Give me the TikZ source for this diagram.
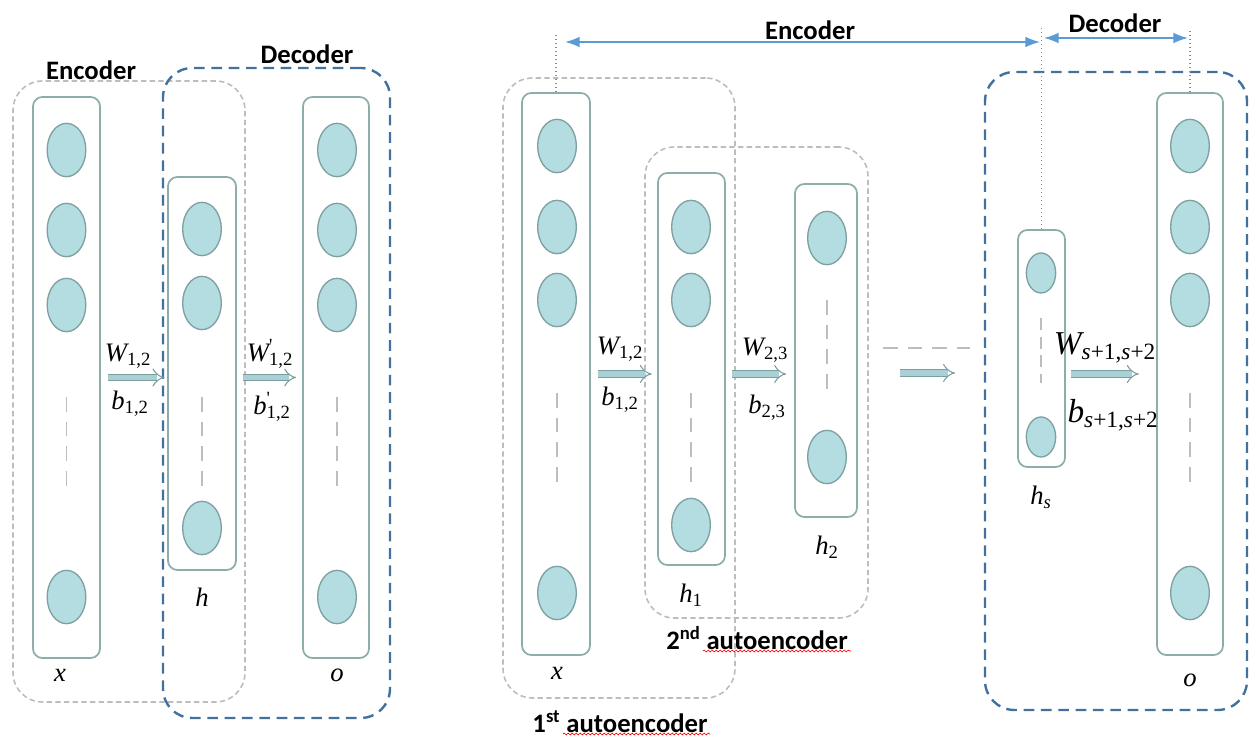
\documentclass[tikz,border=0pt]{standalone}
\usepackage{fontspec}
\setsansfont{Carlito}
\newfontfamily\labfont{Liberation Serif}
\usepackage{tikz}
\usetikzlibrary{shapes.geometric,arrows.meta,decorations.pathmorphing}
\definecolor{cellfill}{HTML}{B4DDE1}
\definecolor{celledge}{HTML}{7FA0A0}
\definecolor{layeredge}{HTML}{8DADAA}
\definecolor{boxgray}{HTML}{BDBDBD}
\definecolor{boxblue}{HTML}{41719C}
\definecolor{spanblue}{HTML}{5B9BD5}
\definecolor{fatfill}{HTML}{A9D0D4}
\definecolor{fatedge}{HTML}{7C9E9E}
\newcommand{\lsub}[1]{\textsubscript{\upshape #1}}
\newcommand{\lsubsup}[2]{\rlap{\textsuperscript{\upshape #1}}\textsubscript{\upshape #2}}
\newcommand{\ssub}{\textsubscript{s\upshape+1,\itshape s\upshape+2}}
\tikzset{
  layer/.style = {draw=layeredge, line width=1.3pt, rounded corners=7pt, inner sep=0pt},
  neuron/.style = {ellipse, draw=celledge, fill=cellfill, line width=1pt, minimum width=29pt, minimum height=40pt, inner sep=0pt},
  smallneuron/.style = {neuron, minimum width=22pt, minimum height=30pt},
  gapline/.style = {draw=boxgray, line width=1.3pt, dash pattern=on 11pt off 7.5pt},
  encbox/.style = {draw=boxgray, line width=1.2pt, dash pattern=on 4pt off 2.5pt, rounded corners=22pt, inner sep=0pt},
  decbox/.style = {draw=boxblue, line width=1.8pt, dash pattern=on 8pt off 5pt, rounded corners=22pt, inner sep=0pt},
  span/.style = {{Latex[length=11pt,width=8pt]}-{Latex[length=11pt,width=8pt]}, draw=spanblue, line width=1.1pt},
  guide/.style = {draw=spanblue, dotted, line width=1pt},
  fat/.style = {-{Implies}, draw=fatedge, double=fatfill, double distance=4pt, line width=0.8pt},
  tag/.style = {font=\sffamily\bfseries\fontsize{20}{22}\selectfont, inner sep=0pt},
  mlabel/.style = {font=\labfont\itshape\fontsize{20}{22}\selectfont, inner sep=0pt},
  biglabel/.style = {font=\labfont\itshape\fontsize{25}{28}\selectfont, inner sep=0pt},
  squiggle/.style = {draw=red, line width=0.5pt, decorate, decoration={snake, amplitude=0.7pt, segment length=3pt}}
}
\begin{document}
\begin{tikzpicture}[x=0.75pt,y=-0.75pt]
\useasboundingbox (0,0) rectangle (1254,737);
\node[encbox, minimum width=174pt, minimum height=465.75pt] (enca) at (129,391.5) {};
\node[decbox, minimum width=170.25pt, minimum height=487.5pt] (deca) at (276.5,393) {};
\node[tag] (encatag) at (91,70) {Encoder};
\node[tag] (decatag) at (307,54) {Decoder};
\node[layer, minimum width=50.25pt, minimum height=420.75pt] (xa) at (66.5,377.5) {};
\node[layer, minimum width=51pt, minimum height=294.75pt] (ha) at (202,373.5) {};
\node[layer, minimum width=49.5pt, minimum height=420.75pt] (oa) at (336,377.5) {};
\node[neuron] (xa1) at (66.5,150) {};
\node[neuron] (xa2) at (66.5,230) {};
\node[neuron] (xa3) at (66.5,305) {};
\node[neuron] (xa4) at (66.5,597) {};
\node[neuron] (ha1) at (202,229) {};
\node[neuron] (ha2) at (202,303) {};
\node[neuron] (ha3) at (202,528) {};
\node[neuron] (oa1) at (337,150) {};
\node[neuron] (oa2) at (337,230) {};
\node[neuron] (oa3) at (337,305) {};
\node[neuron] (oa4) at (337,597) {};
\draw[gapline] (xa3 |- 0,397) -- (xa3 |- 0,490);
\draw[gapline] (ha2 |- 0,397) -- (ha2 |- 0,490);
\draw[gapline] (oa3 |- 0,397) -- (oa3 |- 0,490);
\node[mlabel] (xalab) at (60,675) {x};
\node[mlabel] (halab) at (202,597) {h};
\node[mlabel] (oalab) at (337,675) {o};
\draw[fat] ([xshift=5pt]xa.east) -- ([xshift=-2pt]xa.east -| ha.west);
\draw[fat] ([xshift=4.5pt]ha.east |- oa.west) -- ([xshift=-4.5pt]oa.west);
\node[mlabel] (wa) at (128,356) {W\lsub{1,2}};
\node[mlabel] (ba) at (130,404) {b\lsub{1,2}};
\node[mlabel] (wpa) at (270,354) {W\lsubsup{'}{1,2}};
\node[mlabel] (bpa) at (272,407) {b\lsubsup{'}{1,2}};
\node[encbox, minimum width=174pt, minimum height=465pt] (aeone) at (619,388) {};
\node[encbox, minimum width=167.25pt, minimum height=353.25pt] (aetwo) at (756.5,382.5) {};
\node[decbox, minimum width=196.5pt, minimum height=478.5pt] (decb) at (1116,391) {};
\node[layer, minimum width=51pt, minimum height=421.5pt] (xb) at (556,374) {};
\node[layer, minimum width=50.25pt, minimum height=294pt] (h1) at (691.5,369) {};
\node[layer, minimum width=46.5pt, minimum height=249.75pt] (h2) at (826,350.5) {};
\node[layer, minimum width=35.25pt, minimum height=177.75pt] (hs) at (1041.5,348.5) {};
\node[layer, minimum width=49.5pt, minimum height=421.5pt] (ob) at (1190,374) {};
\node[neuron] (xb1) at (557,146) {};
\node[neuron] (xb2) at (557,227) {};
\node[neuron] (xb3) at (557,300) {};
\node[neuron] (xb4) at (557,593) {};
\node[neuron] (h11) at (691,227) {};
\node[neuron] (h12) at (691,300) {};
\node[neuron] (h13) at (691,525) {};
\node[neuron] (h21) at (827,238) {};
\node[neuron] (h22) at (827,457) {};
\node[smallneuron] (hs1) at (1041,273) {};
\node[smallneuron] (hs2) at (1041,437) {};
\node[neuron] (ob1) at (1190,146) {};
\node[neuron] (ob2) at (1190,227) {};
\node[neuron] (ob3) at (1190,300) {};
\node[neuron] (ob4) at (1190,593) {};
\draw[gapline] (xb3 |- 0,393) -- (xb3 |- 0,487);
\draw[gapline] (h12 |- 0,393) -- (h12 |- 0,487);
\draw[gapline] (h21 |- 0,300) -- (h21 |- 0,393);
\draw[gapline, dash pattern=on 9pt off 5pt] (hs1 |- 0,318) -- (hs1 |- 0,383);
\draw[gapline] (ob3 |- 0,393) -- (ob3 |- 0,487);
\node[mlabel] (xblab) at (557,673) {x};
\node[mlabel] (h1lab) at (691,595) {h\lsub{1}};
\node[mlabel] (h2lab) at (827,547) {h\lsub{2}};
\node[mlabel] (hslab) at (1041,497) {h\textsubscript{s}};
\node[mlabel] (oblab) at (1190,680) {o};
\draw[fat] ([xshift=5pt]xb.east) -- ([xshift=-4pt]xb.east -| h1.west);
\draw[fat] ([xshift=4.5pt]h1.east |- xb.east) -- ([xshift=-6pt]xb.east -| h2.west);
\node[mlabel] (wb) at (620,349) {W\lsub{1,2}};
\node[mlabel] (bb) at (620,400) {b\lsub{1,2}};
\node[mlabel] (wc) at (765,350) {W\lsub{2,3}};
\node[mlabel] (bc) at (767,408) {b\lsub{2,3}};
\coordinate (ga) at (883,348);
\coordinate (gb) at (970,348);
\draw[gapline] (ga) -- (gb);
\coordinate (ma) at (900,373);
\coordinate (mb) at (955,373);
\draw[fat] (ma) -- (mb);
\draw[fat] ([xshift=4pt]hs.east |- ob.west) -- ([xshift=-13pt]ob.west);
\node[biglabel] (ws) at (1105,348) {W\ssub};
\node[biglabel] (bs) at (1113,415) {b\ssub};
\node[tag] (aeonetag) at (620,722) {1\textsuperscript{st} autoencoder};
\node[tag] (aetwotag) at (757,638) {2\textsuperscript{nd} autoencoder};
\coordinate (sqa) at (563,734);
\coordinate (sqb) at (710,734);
\draw[squiggle] (sqa) -- (sqb);
\coordinate (sqc) at (703,651);
\coordinate (sqd) at (851,651);
\draw[squiggle] (sqc) -- (sqd);
\draw[guide] (xb.north) -- ++(0,-59);
\draw[guide] (hs.north) -- ++(0,-202);
\draw[guide] (ob.north) -- ++(0,-61);
\coordinate (encl) at (565,42);
\coordinate (encr) at (1040,42);
\coordinate (decl) at (1044,38);
\coordinate (decr) at (1188,38);
\draw[span] (encl) -- (encr);
\draw[span] (decl) -- (decr);
\node[tag] (encbtag) at (810,30) {Encoder};
\node[tag] (decbtag) at (1115,23) {Decoder};
\end{tikzpicture}
\end{document}
